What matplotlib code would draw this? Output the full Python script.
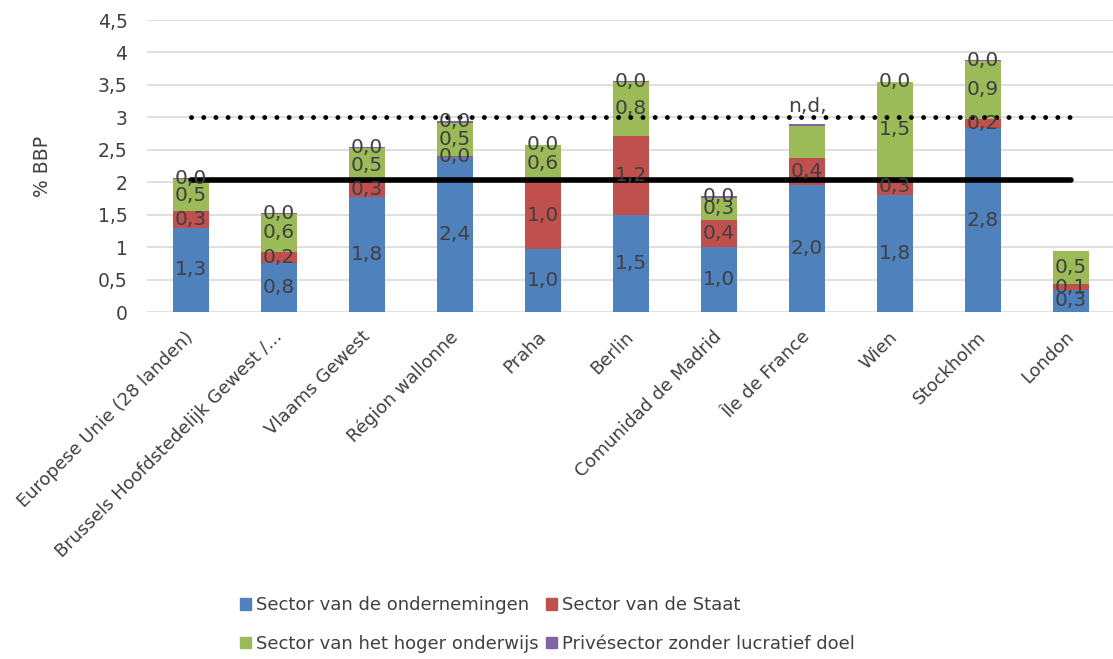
import numpy as np
import matplotlib
matplotlib.use('Agg')
from matplotlib import pyplot as plt
from matplotlib.patches import Patch

# regions and R&D spending (% BBP) by sector
regions = ['Europese Unie (28 landen)', 'Brussels Hoofdstedelijk Gewest /...',
           'Vlaams Gewest', 'Région wallonne', 'Praha', 'Berlin',
           'Comunidad de Madrid', 'Île de France', 'Wien', 'Stockholm', 'London']
ondernemingen = [1.30, 0.75, 1.77, 2.39, 0.97, 1.49, 1.00, 1.95, 1.80, 2.83, 0.34]
staat = [0.25, 0.18, 0.23, 0.02, 1.04, 1.22, 0.42, 0.42, 0.27, 0.15, 0.09]
hoger_onderwijs = [0.50, 0.58, 0.53, 0.51, 0.56, 0.84, 0.34, 0.50, 1.47, 0.89, 0.51]
privesector = [0.01, 0.01, 0.01, 0.02, 0.01, 0.01, 0.03, 0.02, 0.01, 0.02, 0.00]

# which labels are shown (None = no label)
lbl_ondernemingen = ['1,3', '0,8', '1,8', '2,4', '1,0', '1,5', '1,0', '2,0', '1,8', '2,8', '0,3']
lbl_staat = ['0,3', '0,2', '0,3', '0,0', '1,0', '1,2', '0,4', '0,4', '0,3', '0,2', '0,1']
lbl_hoger = ['0,5', '0,6', '0,5', '0,5', '0,6', '0,8', '0,3', None, '1,5', '0,9', '0,5']
lbl_prive = ['0,0', '0,0', '0,0', '0,0', '0,0', '0,0', '0,0', None, '0,0', '0,0', None]

eu_gemiddelde = 2.03
doelstelling = 3.0

series = [
    ('Sector van de ondernemingen', ondernemingen, lbl_ondernemingen, '#4F81BD'),
    ('Sector van de Staat', staat, lbl_staat, '#C0504D'),
    ('Sector van het hoger onderwijs', hoger_onderwijs, lbl_hoger, '#9BBB59'),
    ('Privésector zonder lucratief doel', privesector, lbl_prive, '#8064A2'),
]

txt = '#404040'
fs = 13
plt.rcParams['font.family'] = ['DejaVu Sans']
fig = plt.figure(figsize=(11.13, 6.59), dpi=100)
ax = fig.add_axes([147 / 1113, 347 / 659, 968 / 1113, 292 / 659])

x = np.arange(len(regions))
bottom = np.zeros(len(regions))
for name, vals, lbls, col in series:
    vals = np.array(vals)
    ax.bar(x, vals, 0.4, bottom=bottom, color=col, label=name, zorder=2)
    for i, (v, l) in enumerate(zip(vals, lbls)):
        if l is not None:
            ax.text(x[i], bottom[i] + v / 2, l, ha='center', va='center',
                    fontsize=14.5, color=txt, zorder=4)
    bottom += vals

# n.d. label above Île de France
ax.text(x[7], 3.17, 'n,d,', ha='center', va='center', fontsize=14.5, color=txt, zorder=4)

ax.plot(x, [eu_gemiddelde] * len(x), color='black', lw=4, solid_capstyle='round', zorder=3)
ax.plot(x, [doelstelling] * len(x), color='black', lw=3.5, linestyle=(0, (0.01, 2.5)),
        dash_capstyle='round', zorder=3)

ax.set_xlim(-0.5, 10.5)
ax.set_ylim(0, 4.5)
ticks = np.arange(0, 4.51, 0.5)
ax.set_yticks(ticks)
ax.set_yticklabels([('%g' % t).replace('.', ',') for t in ticks], fontsize=13.5, color=txt)
ax.yaxis.grid(True, color='#D9D9D9', lw=1.2, zorder=0)
ax.set_axisbelow(True)
for s in ax.spines.values():
    s.set_visible(False)
ax.tick_params(axis='both', length=0, pad=14)
ax.set_ylabel('% BBP', fontsize=13.5, color=txt, labelpad=33)

ax.set_xticks(x)
ax.set_xticklabels(regions, rotation=45, ha='right', va='center', rotation_mode='anchor',
                   fontsize=fs, color=txt)
ax.tick_params(axis='x', pad=16)

# legend filled column-wise, so order handles to read row by row
order = [0, 2, 1, 3]
handles = [Patch(color=series[k][3], label=series[k][0]) for k in order]
fig.legend(handles=handles, ncol=2, loc='center', bbox_to_anchor=(0.492, 0.052),
           frameon=False, fontsize=fs, handlelength=0.6, handleheight=0.6,
           handletextpad=0.3, columnspacing=0.4, labelspacing=1.15,
           labelcolor=txt)

fig.savefig('out.png', dpi=100)
